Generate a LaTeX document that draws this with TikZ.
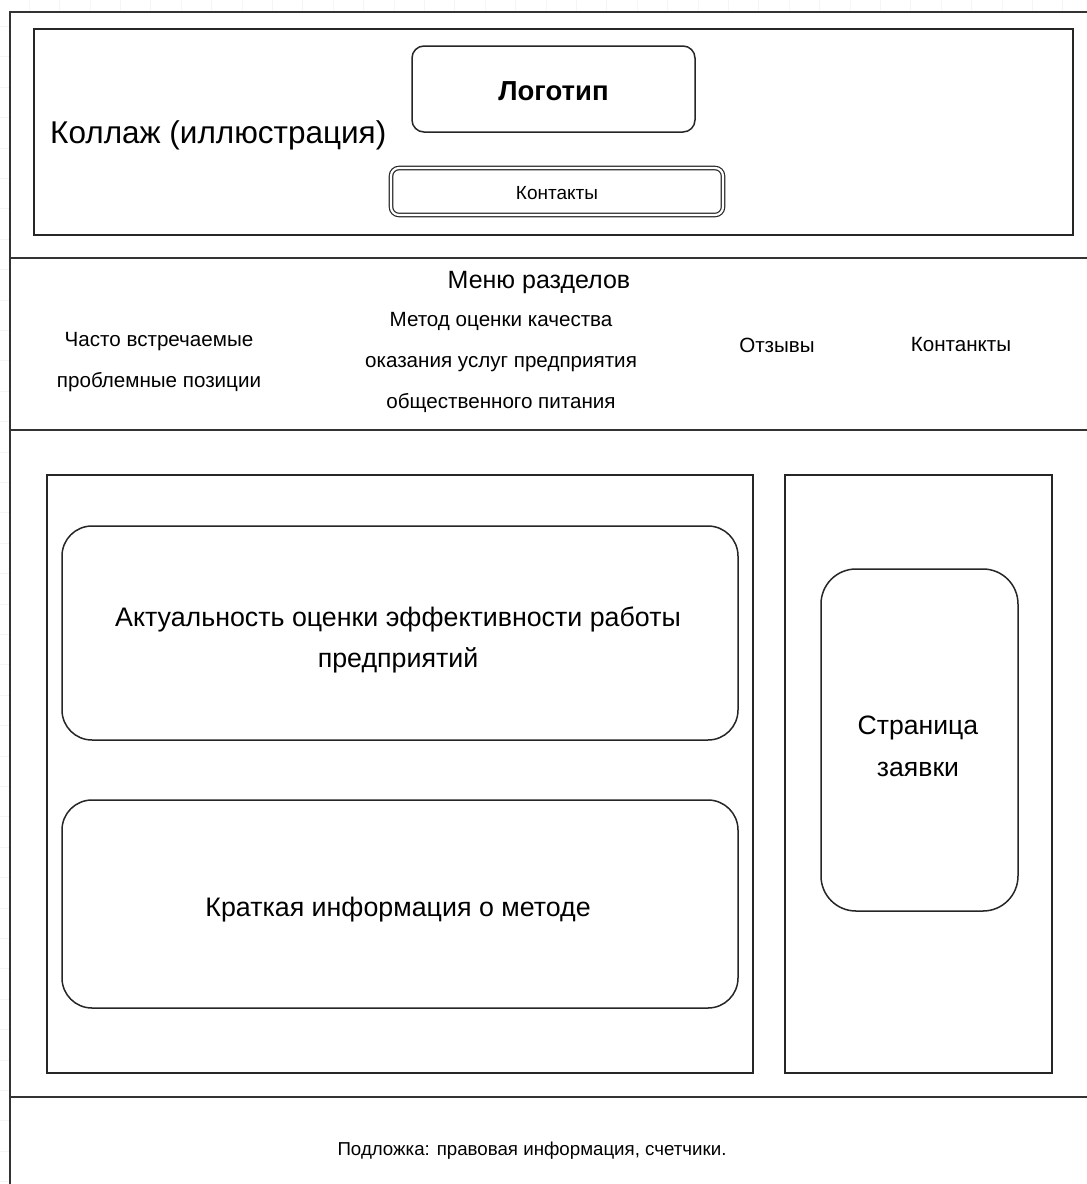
\documentclass[tikz,border=0pt]{standalone}
\usepackage{fontspec}
\setmainfont{Liberation Sans}
\begin{document}
\begin{tikzpicture}[x=1pt,y=-1pt,
  frameline/.style={draw=black!80,line width=2pt},
  plainbox/.style={draw=black!85,line width=1.5pt},
  roundbox/.style={draw=black!85,line width=1.5pt,rounded corners=#1},
  lbl/.style={inner sep=0pt,align=center,font=\fontsize{#1}{#1}\selectfont},
  menuitem/.style={inner sep=0pt,align=center,font=\fontsize{20.6}{41}\selectfont}
]
\clip (0,0) rectangle (1087,1184);
% faint drawing-canvas grid
\foreach \gx in {-1.2,29.2,...,1100} \draw[black!4,line width=0.8pt] (\gx,0) -- (\gx,1184);
\foreach \gy in {-4,26.4,...,1200} \draw[black!4,line width=0.8pt] (0,\gy) -- (1087,\gy);
% page frame
\fill[white] (10,12) rectangle (1100,1200);
\draw[frameline] (10,1200) -- (10,12) -- (1100,12);
\draw[frameline] (10,258) -- (1100,258);
\draw[frameline] (10,430) -- (1100,430);
\draw[frameline] (10,1097) -- (1100,1097);

% header
\draw[plainbox] (34,29) rectangle (1073,235);
\node[lbl=31.5,anchor=west] (collage) at (50,135) {Коллаж (иллюстрация)};
\node[roundbox=12pt,minimum width=283pt,minimum height=86pt] (logo) at (553.5,89) {};
\node[inner sep=0pt,font=\fontsize{27.5}{27.5}\selectfont\bfseries] (logotxt) at (553.5,91) {Логотип};
\node[draw=black!85,line width=1.2pt,double,double distance=2.2pt,rounded corners=8pt,
      minimum width=332pt,minimum height=47pt] (contacts) at (557,191.5) {};
\node[lbl=19] (contactstxt) at (557,193) {Контакты};

% section menu
\node[lbl=25] (menu) at (539,282) {Меню разделов};
\node[menuitem] (often) at (159,362) {Часто встречаемые\\проблемные позиции};
\node[menuitem] (method) at (501,362) {Метод оценки качества\\оказания услуг предприятия\\общественного питания};
\node[menuitem] (reviews) at (777,345) {Отзывы};
\node[menuitem] (contmenu) at (961,345) {Контанкты};

% content area
\draw[plainbox] (47,475) rectangle (753,1073);
\draw[plainbox] (785,475) rectangle (1052,1073);
\node[roundbox=30pt,minimum width=676pt,minimum height=214pt] (relevance) at (400,633) {};
\node[inner sep=0pt,align=center,font=\fontsize{26.8}{41}\selectfont] (relevancetxt) at (398,640) {Актуальность оценки эффективности работы\\предприятий};
\node[roundbox=30pt,minimum width=676pt,minimum height=208pt] (brief) at (400,904) {};
\node[lbl=26.8] (brieftxt) at (398,910) {Краткая информация о методе};
\node[roundbox=35pt,minimum width=197pt,minimum height=342pt] (request) at (919.5,740) {};
\node[inner sep=0pt,align=center,font=\fontsize{26.6}{42}\selectfont] (requesttxt) at (918,746) {Страница\\заявки};

% footer
\node[lbl=18.7] (footer) at (532,1151) {Подложка: правовая информация, счетчики.};
\end{tikzpicture}
\end{document}
